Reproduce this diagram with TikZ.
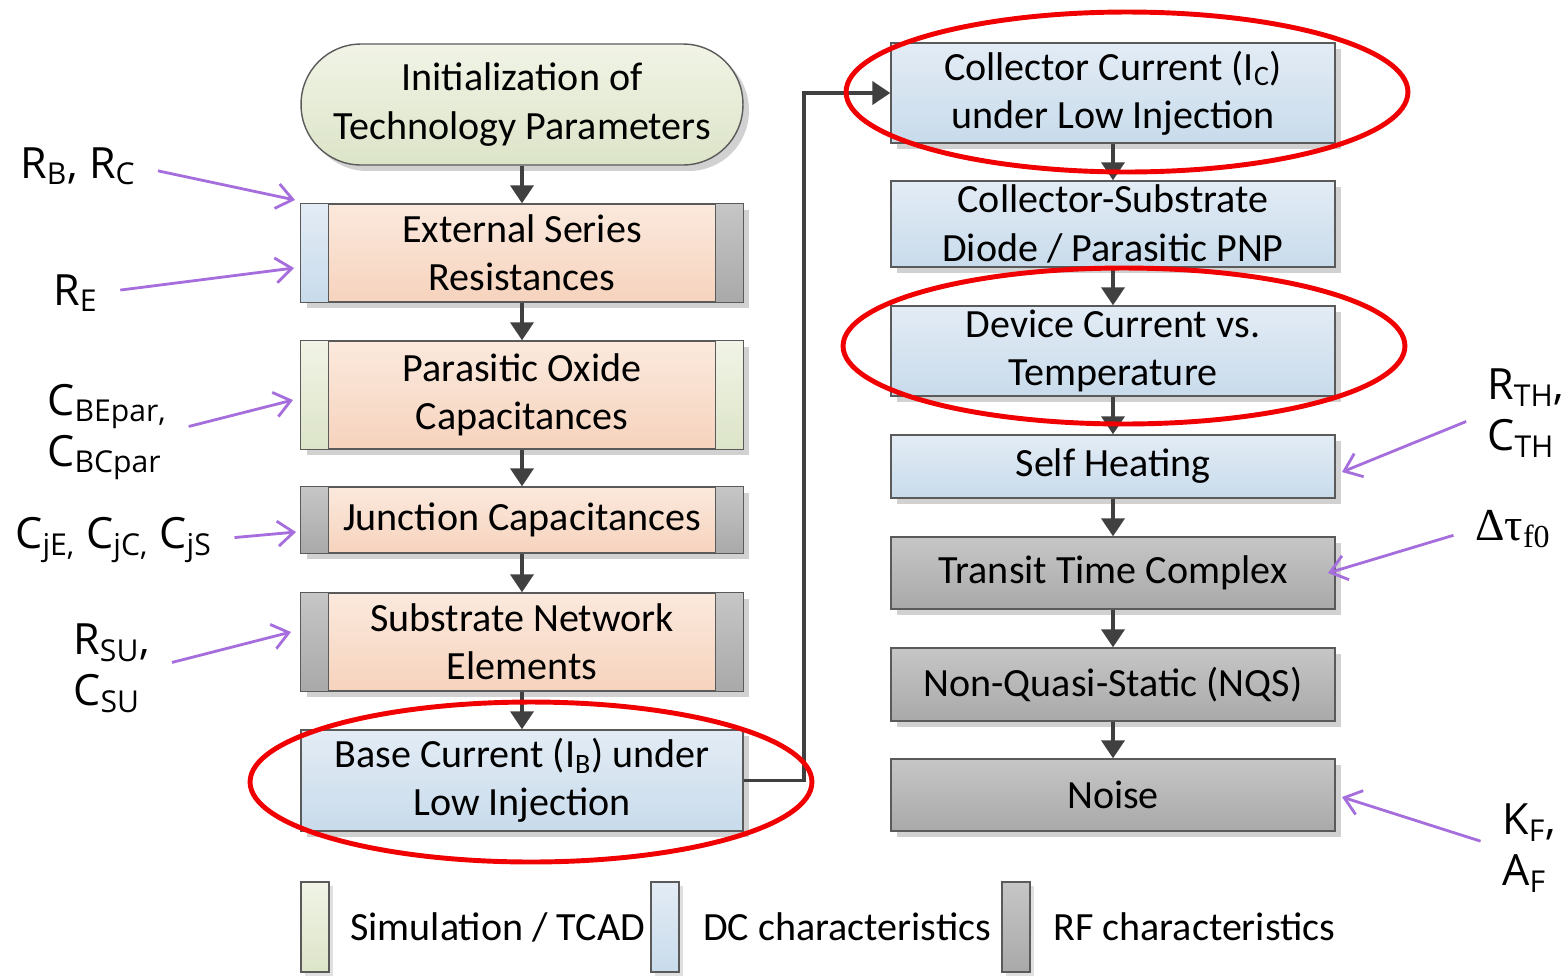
\documentclass[tikz,border=0pt]{standalone}
\usepackage{fontspec}
\setmainfont{Carlito}
\newfontfamily\lblfont{Open Sans}
\newfontfamily\grkfont{Liberation Serif}
\usetikzlibrary{arrows.meta,shadows}

\definecolor{boxline}{HTML}{5A5A5A}
\definecolor{flowgray}{HTML}{404040}
\definecolor{paramviolet}{RGB}{165,110,220}
\definecolor{peachtop}{HTML}{FBE9DD}
\definecolor{peachbot}{HTML}{F6D3BD}
\definecolor{bluetop}{HTML}{E3ECF5}
\definecolor{bluebot}{HTML}{C8DBEB}
\definecolor{graytop}{HTML}{C6C6C6}
\definecolor{graybot}{HTML}{A9A9A9}
\definecolor{greentop}{HTML}{F1F4E6}
\definecolor{greenbot}{HTML}{DCE4C8}
\definecolor{hired}{HTML}{F00000}

\newcommand{\lo}[1]{\textsubscript{#1}}

\tikzset{
  stage/.style={draw=boxline, line width=0.8pt, align=center, inner sep=0pt,
    font=\fontsize{22.8}{27.5}\selectfont,
    drop shadow={shadow xshift=0.12cm, shadow yshift=-0.12cm, fill=black!18, opacity=1}},
  leftbox/.style={stage, minimum width=8.84cm},
  rightbox/.style={stage, minimum width=8.88cm},
  peach/.style={top color=peachtop, bottom color=peachbot},
  dcfill/.style={top color=bluetop, bottom color=bluebot},
  rffill/.style={top color=graytop, bottom color=graybot},
  simfill/.style={top color=greentop, bottom color=greenbot},
  strip/.style={draw=boxline, line width=0.8pt},
  flow/.style={draw=flowgray, line width=2.2pt, -{Triangle[length=0.36cm, width=0.46cm]}},
  param/.style={draw=paramviolet, line width=1.6pt, shorten <=0.45cm,
    -{Straight Barb[length=0.32cm, width=0.5cm]}},
  lbl/.style={inner sep=0pt, align=left, font=\lblfont\fontsize{24.5}{29}\selectfont},
  hilite/.style={draw=hired, line width=2.8pt},
  legbar/.style={draw=boxline, line width=0.8pt, minimum width=0.56cm, minimum height=1.8cm,
    inner sep=0pt, drop shadow={shadow xshift=0.08cm, shadow yshift=-0.08cm, fill=black!12, opacity=1}},
  legtext/.style={anchor=west, inner sep=0pt, font=\fontsize{22.8}{27.5}\selectfont}
}

\begin{document}
\begin{tikzpicture}[x=0.02cm, y=-0.02cm]
\useasboundingbox (0,0) rectangle (1562,975);

% left column
\node[leftbox, simfill, rounded corners=1.2cm, minimum height=2.42cm] (init) at (522,104.5)
  {Initialization of\\Technology Parameters};
\node[leftbox, peach, minimum height=1.96cm] (ext) at (522,253) {External Series\\Resistances};
\node[leftbox, peach, minimum height=2.16cm] (par) at (522,395) {Parasitic Oxide\\Capacitances};
\node[leftbox, peach, minimum height=1.32cm] (junc) at (522,520) {Junction Capacitances};
\node[leftbox, peach, minimum height=1.96cm] (sub) at (522,642) {Substrate Network\\Elements};
\node[leftbox, dcfill, minimum height=2.02cm] (base) at (522,780.5) {Base Current (I\lo{B}) under\\Low Injection};

% side strips
\draw[strip, dcfill] (ext.north west) rectangle ([xshift=0.56cm]ext.south west);
\draw[strip, rffill] (ext.north east) rectangle ([xshift=-0.56cm]ext.south east);
\draw[strip, simfill] (par.north west) rectangle ([xshift=0.56cm]par.south west);
\draw[strip, simfill] (par.north east) rectangle ([xshift=-0.56cm]par.south east);
\draw[strip, rffill] (junc.north west) rectangle ([xshift=0.56cm]junc.south west);
\draw[strip, rffill] (junc.north east) rectangle ([xshift=-0.56cm]junc.south east);
\draw[strip, rffill] (sub.north west) rectangle ([xshift=0.56cm]sub.south west);
\draw[strip, rffill] (sub.north east) rectangle ([xshift=-0.56cm]sub.south east);

% right column
\node[rightbox, dcfill, minimum height=2.0cm] (coll) at (1113,93) {Collector Current (I\lo{C})\\under Low Injection};
\node[rightbox, dcfill, minimum height=1.72cm] (cs) at (1113,224) {Collector-Substrate\\Diode / Parasitic PNP};
\node[rightbox, dcfill, minimum height=1.8cm] (temp) at (1113,351) {Device Current vs.\\Temperature};
\node[rightbox, dcfill, minimum height=1.26cm] (self) at (1113,466.5) {Self Heating};
\node[rightbox, rffill, minimum height=1.44cm] (tt) at (1113,573) {Transit Time Complex};
\node[rightbox, rffill, minimum height=1.46cm] (nqs) at (1113,684.5) {Non-Quasi-Static (NQS)};
\node[rightbox, rffill, minimum height=1.44cm] (noise) at (1113,795) {Noise};

% flow
\draw[flow] (init) -- (ext);
\draw[flow] (ext) -- (par);
\draw[flow] (par) -- (junc);
\draw[flow] (junc) -- (sub);
\draw[flow] (sub) -- (base);
\draw[flow] (base.east) -- ++(60,0) |- (coll.west);
\draw[flow] (coll) -- (cs);
\draw[flow] (cs) -- (temp);
\draw[flow] (temp) -- (self);
\draw[flow] (self) -- (tt);
\draw[flow] (tt) -- (nqs);
\draw[flow] (nqs) -- (noise);

% parameters
\node[lbl, anchor=base west] (rbrc) at (20,178) {R\lo{B}, R\lo{C}};
\node[lbl, anchor=base west] (re) at (53,305) {R\lo{E}};
\node[lbl, anchor=west] (cpar) at (47,432) {C\lo{BEpar,}\\C\lo{BCpar}};
\node[lbl, anchor=base west] (cj) at (15,548) {C\lo{jE,} C\lo{jC,} C\lo{jS}};
\node[lbl, anchor=west] (rsu) at (73,668) {R\lo{SU},\\C\lo{SU}};
\node[lbl, anchor=west] (rth) at (1487,413) {R\lo{TH},\\C\lo{TH}};
\node[lbl, anchor=base west, font=\grkfont\fontsize{26}{30}\selectfont] (tau) at (1475,540) {Δτ\lo{f0}};
\node[lbl, anchor=west] (kf) at (1502,848) {K\lo{F},\\A\lo{F}};

\coordinate (trbrc) at (295,200);
\coordinate (tre) at (294,268);
\coordinate (tcpar) at (293,400);
\coordinate (tcj) at (296,532);
\coordinate (trsu) at (291,632);
\coordinate (trth) at (1342,472);
\coordinate (ttau) at (1328,573);
\coordinate (tkf) at (1342,797);

\draw[param] (rbrc.east) -- (trbrc);
\draw[param] (re.east) -- (tre);
\draw[param] (cpar.east) -- (tcpar);
\draw[param] (cj.east) -- (tcj);
\draw[param] (rsu.east) -- (trsu);
\draw[param] (rth.west) -- (trth);
\draw[param] (tau.west) -- (ttau);
\draw[param] (kf.west) -- (tkf);

% highlighted steps
\draw[hilite] (1127,92) ellipse [x radius=5.62cm, y radius=1.6cm];
\draw[hilite] (1124,346) ellipse [x radius=5.62cm, y radius=1.56cm];
\draw[hilite] (531,782) ellipse [x radius=5.62cm, y radius=1.6cm];

% legend
\node[legbar, simfill] (legsim) at (315,927) {};
\node[legtext] (legsimtxt) at (350,927) {Simulation / TCAD};
\node[legbar, dcfill] (legdc) at (665,927) {};
\node[legtext] (legdctxt) at (703,927) {DC characteristics};
\node[legbar, rffill] (legrf) at (1016,927) {};
\node[legtext] (legrftxt) at (1053,927) {RF characteristics};
\end{tikzpicture}
\end{document}
